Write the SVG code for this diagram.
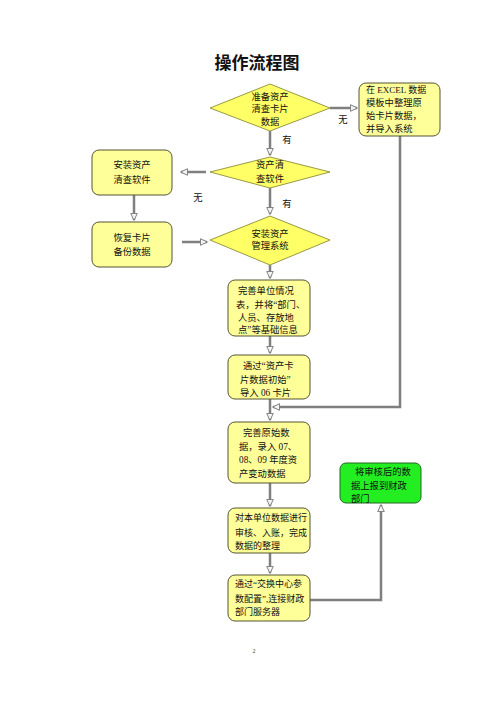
<svg xmlns="http://www.w3.org/2000/svg" width="500" height="707" viewBox="0 0 500 707">
<style>
text{font-family:"Liberation Serif","Noto Sans CJK SC",serif;fill:#111;}
.t{font-size:9.3px;}
.s{font-size:9px;}
.c{text-anchor:middle;}
.box{fill:#FFFF99;stroke:#555533;stroke-width:1;}
.dia{fill:#FFFF66;stroke:#999944;stroke-width:1;}
.green{fill:#22EE22;stroke:#226622;stroke-width:1;}
.ln{fill:none;stroke:#7f7f7f;stroke-width:2.5;}
</style>
<defs>
<marker id="ah" viewBox="0 0 8 8" refX="7" refY="4" markerWidth="3" markerHeight="3" orient="auto" markerUnits="strokeWidth">
<path d="M0,0.5 L7.5,4 L0,7.5 Z" fill="#f4f4f4" stroke="#777" stroke-width="1"/>
</marker>
</defs>
<rect width="500" height="707" fill="#fff"/>
<text x="257" y="69" class="c" style="font-size:17px;font-weight:bold">操作流程图</text>

<g id="connectors">
<line class="ln" x1="330" y1="108" x2="357" y2="108" marker-end="url(#ah)"/>
<line class="ln" x1="270" y1="131" x2="270" y2="155" marker-end="url(#ah)"/>
<line class="ln" x1="206" y1="172" x2="181" y2="172" marker-end="url(#ah)"/>
<line class="ln" x1="134" y1="195" x2="134" y2="220" marker-end="url(#ah)"/>
<line class="ln" x1="182" y1="242" x2="207" y2="242" marker-end="url(#ah)"/>
<line class="ln" x1="270" y1="188" x2="270" y2="214" marker-end="url(#ah)"/>
<line class="ln" x1="270" y1="265" x2="270" y2="278" marker-end="url(#ah)"/>
<line class="ln" x1="270" y1="336" x2="270" y2="353" marker-end="url(#ah)"/>
<line class="ln" x1="270" y1="399" x2="270" y2="420" marker-end="url(#ah)"/>
<path class="ln" d="M400,136 V407 H273" marker-end="url(#ah)"/>
<line class="ln" x1="270" y1="483" x2="270" y2="506" marker-end="url(#ah)"/>
<line class="ln" x1="270" y1="553" x2="270" y2="573" marker-end="url(#ah)"/>
<path class="ln" d="M310,600 H381 V505" marker-end="url(#ah)"/>
<text x="343" y="123" class="t c">无</text>
<text x="287" y="143" class="t c">有</text>
<text x="198" y="201" class="t c">无</text>
<text x="287" y="207" class="t c">有</text>
</g>

<g id="d1">
<polygon class="dia" points="270,84 330,108 270,131 210,108"/>
<text x="270" y="100" class="t c">准备资产</text>
<text x="270" y="112" class="t c">清查卡片</text>
<text x="270" y="125" class="t c">数据</text>
</g>
<g id="excel">
<rect class="box" x="359" y="83" width="81" height="53" rx="7"/>
<text x="366" y="93" class="s">在 EXCEL 数据</text>
<text x="366" y="106" class="t">模板中整理原</text>
<text x="366" y="119" class="t">始卡片数据，</text>
<text x="366" y="132" class="t">并导入系统</text>
</g>
<g id="d2">
<polygon class="dia" points="270,157 330,172 270,188 210,172"/>
<text x="270" y="168" class="t c">资产清</text>
<text x="270" y="182" class="t c">查软件</text>
</g>
<g id="lb1">
<rect class="box" x="92" y="150" width="80" height="45" rx="7"/>
<text x="132" y="168" class="t c">安装资产</text>
<text x="132" y="183" class="t c">清查软件</text>
</g>
<g id="lb2">
<rect class="box" x="92" y="222" width="80" height="45" rx="7"/>
<text x="132" y="241" class="t c">恢复卡片</text>
<text x="132" y="255" class="t c">备份数据</text>
</g>
<g id="d3">
<polygon class="dia" points="270,216 330,240 270,265 210,240"/>
<text x="270" y="237" class="t c">安装资产</text>
<text x="270" y="249" class="t c">管理系统</text>
</g>
<g id="a">
<rect class="box" x="228" y="280" width="82" height="56" rx="7"/>
<text x="238" y="294" class="t">完善单位情况</text>
<text x="236" y="308" class="t">表，并将“部门、</text>
<text x="238" y="321" class="t">人员、存放地</text>
<text x="238" y="333" class="t">点”等基础信息</text>
</g>
<g id="b">
<rect class="box" x="228" y="355" width="82" height="44" rx="7"/>
<text x="243" y="369" class="t">通过“资产卡</text>
<text x="240" y="383" class="t">片数据初始”</text>
<text x="240" y="396" class="t">导入 06 卡片</text>
</g>
<g id="c">
<rect class="box" x="228" y="422" width="82" height="61" rx="7"/>
<text x="243" y="436" class="t">完善原始数</text>
<text x="239" y="450" class="t">据，录入 07、</text>
<text x="239" y="463" class="t">08、09 年度资</text>
<text x="239" y="477" class="t">产变动数据</text>
</g>
<g id="green">
<rect class="green" x="340" y="463" width="81" height="40" rx="6"/>
<text x="355" y="475" class="t">将审核后的数</text>
<text x="351" y="489" class="t">据上报到财政</text>
<text x="351" y="502" class="t">部门</text>
</g>
<g id="d">
<rect class="box" x="228" y="508" width="82" height="45" rx="7"/>
<text x="235" y="521" class="s">对本单位数据进行</text>
<text x="235" y="536" class="s">审核、入账，完成</text>
<text x="235" y="549" class="s">数据的整理</text>
</g>
<g id="e">
<rect class="box" x="228" y="575" width="82" height="46" rx="7"/>
<text x="235" y="587" class="s">通过“交换中心参</text>
<text x="235" y="602" class="s">数配置”,连接财政</text>
<text x="235" y="615" class="s">部门服务器</text>
</g>
<text x="254" y="653" class="c" style="font-size:6px;fill:#444">2</text>
</svg>
